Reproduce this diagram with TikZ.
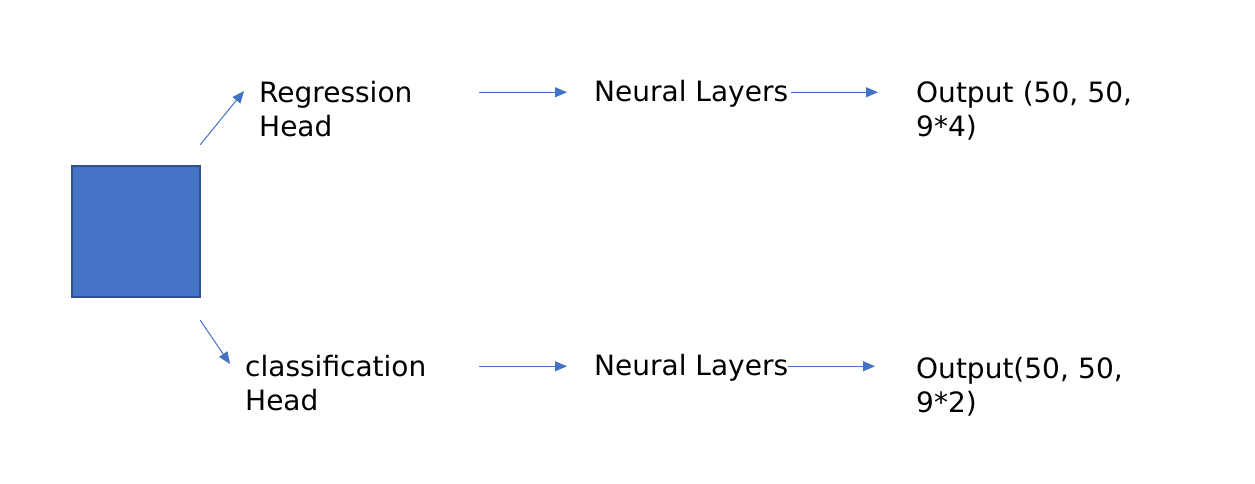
\documentclass[tikz,border=0pt]{standalone}
\usepackage{fontspec}
\setmainfont{DejaVu Sans}
\usetikzlibrary{arrows.meta,calc}
\definecolor{boxblue}{HTML}{4472C4}
\definecolor{boxedge}{HTML}{2F528F}
\begin{document}
\begin{tikzpicture}[x=1pt, y=1pt,
    txt/.style={inner sep=0pt, align=left, anchor=base west, font=\fontsize{28}{34}\selectfont},
    arr/.style={boxblue, line width=1pt, -{Triangle[length=12pt, width=10pt]}}]

        \useasboundingbox (0,0) rectangle (1255,484);

        % Feature block
        \draw[boxedge, line width=1.5pt, fill=boxblue] (72,187) rectangle (200,318);
        \node[inner sep=0pt, minimum width=128pt, minimum height=131pt] (sq) at (136,252.5) {};

        % Heads
        \node[txt, text width=220pt] (reg) at (259,381) {Regression\\Head};
        \node[txt, text width=234pt] (cls) at (245,107) {classification\\Head};

        % Neural layers
        \node[txt] (nnA) at (594,382) {Neural Layers};
        \node[txt] (nnB) at (594,108) {Neural Layers};

        % Outputs
        \node[txt, text width=250pt] (outA) at (916,381) {Output (50, 50,\\9*4)};
        \node[txt, text width=250pt] (outB) at (916,105) {Output(50, 50,\\9*2)};

        % Connections
        \draw[arr] ($(sq.north east)+(0,21)$) -- ($(reg.base west)+(-15,12)$);
        \draw[arr] ($(sq.south east)+(0,-23)$) -- ($(cls.base west)+(-15,13)$);
        \draw[arr, shorten >=27pt] ($(reg.east |- nnA.west)+(0,2)$) -- ($(nnA.west)+(0,2)$);
        \draw[arr, shorten >=27pt] ($(cls.east |- nnB.west)+(0,2)$) -- ($(nnB.west)+(0,2)$);
        \draw[arr, shorten <=3pt, shorten >=38pt] ($(nnA.east)+(0,2)$) -- ($(outA.west |- nnA.east)+(0,2)$);
        \draw[arr, shorten >=41pt] ($(nnB.east)+(0,2)$) -- ($(outB.west |- nnB.east)+(0,2)$);
    \end{tikzpicture}
\end{document}
